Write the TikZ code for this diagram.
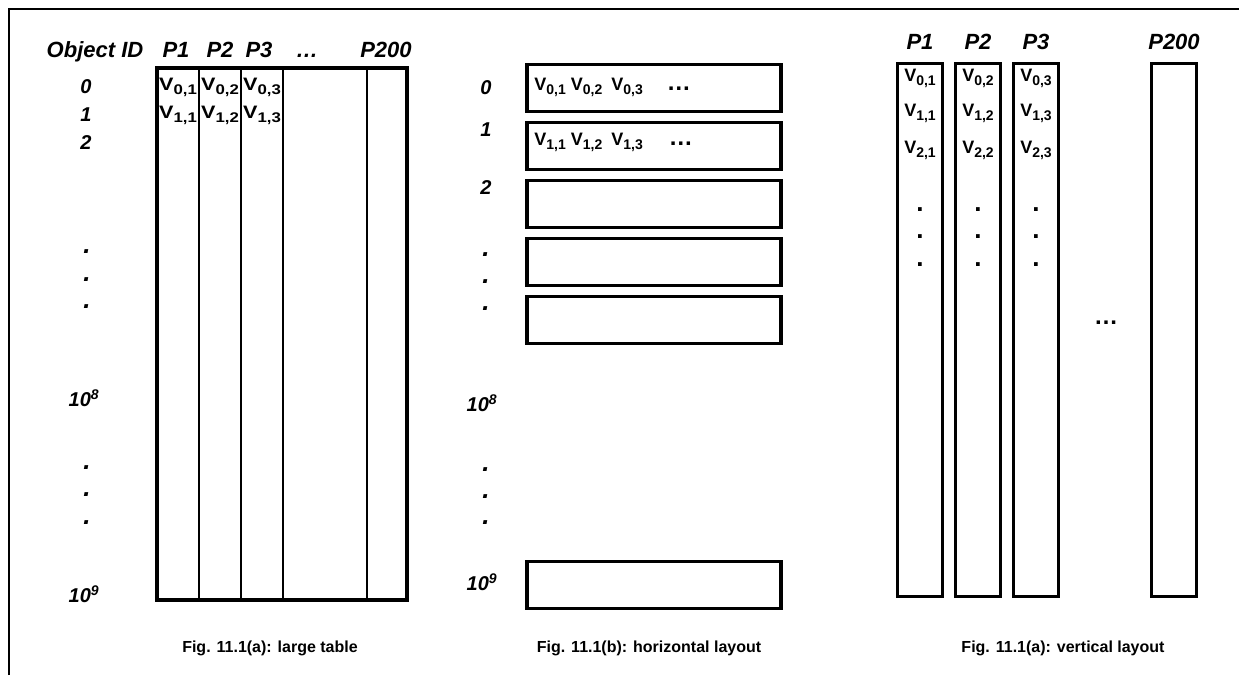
\documentclass[tikz,border=0pt]{standalone}
\usepackage{fontspec}
\setmainfont{Liberation Sans}
\newfontfamily\widefont[FakeStretch=1.2]{Liberation Sans}
\usetikzlibrary{positioning}
\newcommand{\vsub}[1]{V\raisebox{-0.22em}{\fontsize{14}{14}\selectfont #1}}
\newcommand{\bigdots}{{\fontsize{24}{24}\selectfont\dots}}

\begin{document}
\begin{tikzpicture}[x=1pt, y=-1pt,
    hdr/.style={font=\fontsize{22}{22}\selectfont\bfseries\itshape, inner sep=0pt},
    idl/.style={font=\fontsize{20}{20}\selectfont\bfseries\itshape, inner sep=0pt},
    idot/.style={font=\fontsize{26}{26}\selectfont\bfseries\itshape, inner sep=0pt},
    cellw/.style={font=\widefont\fontsize{18}{18}\selectfont\bfseries, inner sep=0pt},
    cell/.style={font=\fontsize{18}{18}\selectfont\bfseries, inner sep=0pt},
    dotc/.style={font=\fontsize{26}{26}\selectfont\bfseries, inner sep=0pt},
    figcap/.style={font=\fontsize{16}{16}\selectfont\bfseries, inner sep=0pt},
    frm/.style={line width=2pt},
    tblline/.style={line width=2.5pt},
    rowbox/.style={draw, line width=3.5pt, minimum width=254, minimum height=47, inner sep=0pt},
    colbox/.style={draw, line width=3.5pt, minimum width=45, minimum height=533, inner sep=0pt}
]
\useasboundingbox (0,0) rectangle (1239,675);
\draw[frm] (9,675) -- (9,9) -- (1239,9);

% (a) large table
\node[hdr, anchor=base] (hid) at (95,57)  {Object ID};
\node[hdr, anchor=base] (ha1) at (176,57) {P1};
\node[hdr, anchor=base] (ha2) at (220,57) {P2};
\node[hdr, anchor=base] (ha3) at (259,57) {P3};
\node[hdr, anchor=base] (hadots) at (307,57) {\dots};
\node[hdr, anchor=base] (ha200) at (386,57) {P200};

\draw[line width=3.5pt] (157,68) rectangle (407,600);
\draw[tblline] (199,68) -- (199,600);
\draw[tblline] (241,68) -- (241,600);
\draw[tblline] (283,68) -- (283,600);
\draw[tblline] (367,68) -- (367,600);
\draw[line width=4.5pt] (157,600) -- (407,600);

\node[idl] (a0) at (86,87)  {0};
\node[idl] (a1) at (86,115) {1};
\node[idl] (a2) at (86,143) {2};
\node[idot] (ad1) at (87,252) {.};
\node[idot] (ad2) at (87,280) {.};
\node[idot] (ad3) at (87,307) {.};
\node[idl] (a8) at (84,398) {10\textsuperscript{8}};
\node[idot] (ad4) at (87,468) {.};
\node[idot] (ad5) at (87,495) {.};
\node[idot] (ad6) at (87,523) {.};
\node[idl] (a9) at (84,594) {10\textsuperscript{9}};

\node[cellw] (c01) at (178,87)  {\vsub{0,1}};
\node[cellw] (c02) at (220,87)  {\vsub{0,2}};
\node[cellw] (c03) at (262,87)  {\vsub{0,3}};
\node[cellw] (c11) at (178,115) {\vsub{1,1}};
\node[cellw] (c12) at (220,115) {\vsub{1,2}};
\node[cellw] (c13) at (262,115) {\vsub{1,3}};

\node[figcap] (capa) at (270,648) {Fig. 11.1(a): large table};

% (b) horizontal layout
\node[rowbox] (b0) at (654,88)  {};
\node[rowbox] (b1) at (654,146) {};
\node[rowbox] (b2) at (654,204) {};
\node[rowbox] (b3) at (654,262) {};
\node[rowbox] (b4) at (654,320) {};
\node[rowbox] (b9) at (654,585) {};

\node[cell, right=9pt of b0.west, yshift=1pt] (r0)
  {\vsub{0,1}\hspace{5pt}\vsub{0,2}\hspace{9pt}\vsub{0,3}\hspace{24pt}\bigdots};
\node[cell, right=9pt of b1.west, yshift=4pt] (r1)
  {\vsub{1,1}\hspace{5pt}\vsub{1,2}\hspace{9pt}\vsub{1,3}\hspace{26pt}\bigdots};

\node[idl] (l0) at (486,88)  {0};
\node[idl] (l1) at (486,130) {1};
\node[idl] (l2) at (486,188) {2};
\node[idot] (ld1) at (486,255) {.};
\node[idot] (ld2) at (486,282) {.};
\node[idot] (ld3) at (486,309) {.};
\node[idl] (l8) at (482,403) {10\textsuperscript{8}};
\node[idot] (ld4) at (486,470) {.};
\node[idot] (ld5) at (486,497) {.};
\node[idot] (ld6) at (486,523) {.};
\node[idl] (l9) at (482,582) {10\textsuperscript{9}};

\node[figcap] (capb) at (649,648) {Fig. 11.1(b): horizontal layout};

% (c) vertical layout
\node[colbox] (p1)   at (920,330)  {};
\node[colbox] (p2)   at (978,330)  {};
\node[colbox] (p3)   at (1036,330) {};
\node[colbox] (p200) at (1174,330) {};

\node[hdr, above=12pt of p1.north]   (hc1)   {P1};
\node[hdr, above=12pt of p2.north]   (hc2)   {P2};
\node[hdr, above=12pt of p3.north]   (hc3)   {P3};
\node[hdr, above=12pt of p200.north] (hc200) {P200};

\node[cell] (v01) at (920,78)  {\vsub{0,1}};
\node[cell] (v02) at (978,78)  {\vsub{0,2}};
\node[cell] (v03) at (1036,78) {\vsub{0,3}};
\node[cell] (v11) at (920,113)  {\vsub{1,1}};
\node[cell] (v12) at (978,113)  {\vsub{1,2}};
\node[cell] (v13) at (1036,113) {\vsub{1,3}};
\node[cell] (v21) at (920,150)  {\vsub{2,1}};
\node[cell] (v22) at (978,150)  {\vsub{2,2}};
\node[cell] (v23) at (1036,150) {\vsub{2,3}};

\node[dotc] (vd11) at (920,210)  {.};
\node[dotc] (vd12) at (920,237)  {.};
\node[dotc] (vd13) at (920,265)  {.};
\node[dotc] (vd21) at (978,210)  {.};
\node[dotc] (vd22) at (978,237)  {.};
\node[dotc] (vd23) at (978,265)  {.};
\node[dotc] (vd31) at (1036,210) {.};
\node[dotc] (vd32) at (1036,237) {.};
\node[dotc] (vd33) at (1036,265) {.};

\node[cell] (cdots) at (1106,323) {\bigdots};

\node[figcap] (capc) at (1063,648) {Fig. 11.1(a): vertical layout};
\end{tikzpicture}
\end{document}
